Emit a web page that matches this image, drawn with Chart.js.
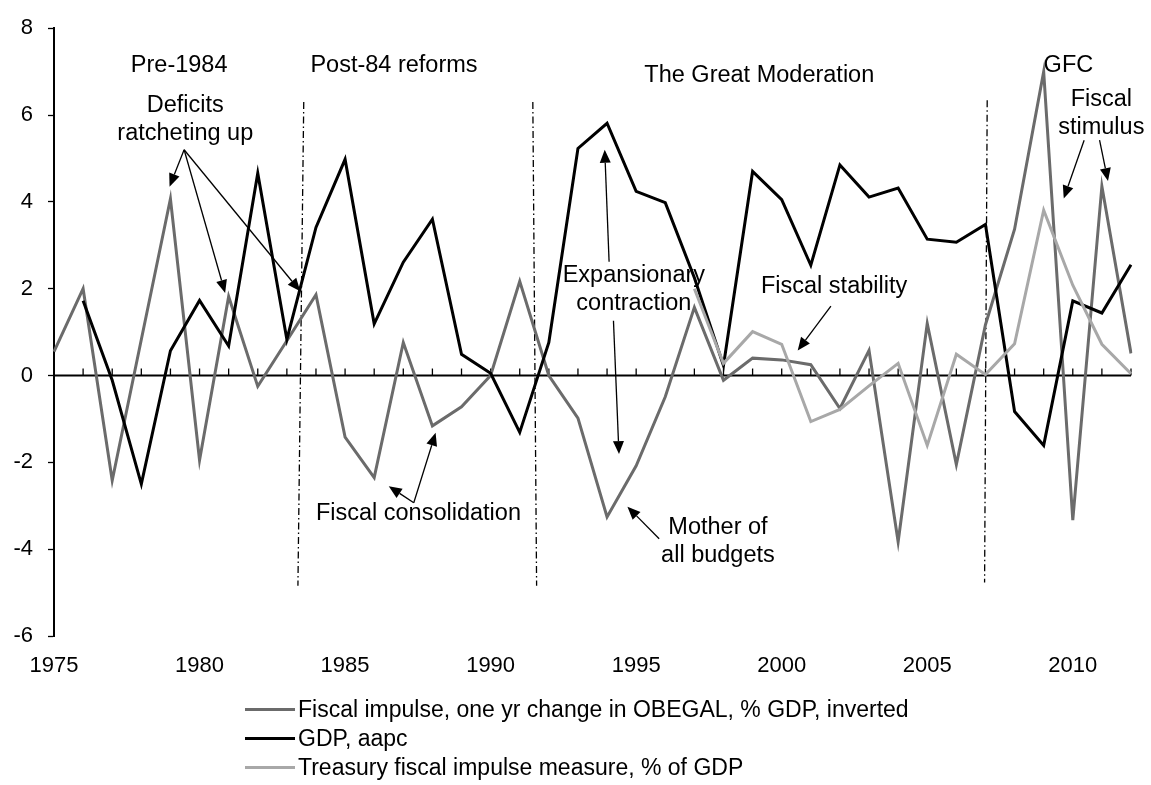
<!DOCTYPE html>
<html>
<head>
<meta charset="utf-8">
<script src="https://cdn.jsdelivr.net/npm/chart.js@4.4.0/dist/chart.umd.min.js"></script>
<style>
  html, body { margin: 0; padding: 0; background: #fff; }
  #wrap { position: relative; width: 1151px; height: 785px; }
  #legend {
    position: absolute; left: 245px; top: 695px;
    font-family: 'Liberation Sans', Arial, sans-serif; font-size: 23px; color: #000;
  }
  #legend .item { display: flex; align-items: center; height: 29px; white-space: nowrap; }
  #legend .swatch { width: 50px; height: 3px; margin-right: 3px; }
</style>
</head>
<body>
<div id="wrap">
  <canvas id="chart" width="1151" height="785"></canvas>
  <div id="legend"></div>
</div>
<script>
// years on the category axis
const years = [1975, 1976, 1977, 1978, 1979, 1980, 1981, 1982, 1983, 1984,
               1985, 1986, 1987, 1988, 1989, 1990, 1991, 1992, 1993, 1994,
               1995, 1996, 1997, 1998, 1999, 2000, 2001, 2002, 2003, 2004,
               2005, 2006, 2007, 2008, 2009, 2010, 2011, 2012];

// Fiscal impulse, one yr change in OBEGAL, % GDP, inverted
const fiscalImpulse = [0.55, 2.0, -2.42, 0.83, 4.07, -1.95, 1.82, -0.25, 0.8, 1.86,
                       -1.42, -2.35, 0.76, -1.16, -0.72, 0.0, 2.17, 0.0, -0.98, -3.26,
                       -2.08, -0.49, 1.57, -0.11, 0.4, 0.36, 0.25, -0.76, 0.58, -3.83,
                       1.2, -2.05, 1.17, 3.37, 7.0, -3.33, 4.36, 0.51];

// GDP, aapc
const gdp = [null, 1.72, -0.11, -2.5, 0.57, 1.73, 0.68, 4.66, 0.83, 3.41,
             4.98, 1.19, 2.61, 3.6, 0.49, 0.05, -1.31, 0.76, 5.23, 5.81,
             4.24, 3.98, 2.25, 0.23, 4.7, 4.05, 2.54, 4.85, 4.11, 4.32,
             3.14, 3.07, 3.48, -0.83, -1.61, 1.72, 1.44, 2.55];

// Treasury fiscal impulse measure, % of GDP
const treasuryImpulse = [null, null, null, null, null, null, null, null, null, null,
                         null, null, null, null, null, null, null, null, null, null,
                         null, null, 2.0, 0.28, 1.01, 0.72, -1.06, -0.78, -0.24, 0.28,
                         -1.61, 0.49, 0.02, 0.73, 3.81, 2.08, 0.72, 0.04];

const yTicks = [-6, -4, -2, 0, 2, 4, 6, 8];

// period boundaries (dash-dot lines), in [year, value] pairs
const periodLines = [
  [[1983.58, 6.30], [1983.38, -4.84]],
  [[1991.45, 6.30], [1991.58, -4.84]],
  [[2007.06, 6.34], [2006.97, -4.77]]
];

// text notes, centred at [year, value]
const notes = [
  { lines: ['Pre-1984'], at: [1979.30, 7.14] },
  { lines: ['Post-84 reforms'], at: [1986.68, 7.14] },
  { lines: ['The Great Moderation'], at: [1999.23, 6.91] },
  { lines: ['GFC'], at: [2009.85, 7.14] },
  { lines: ['Deficits', 'ratcheting up'], at: [1979.51, 6.23] },
  { lines: ['Fiscal', 'stimulus'], at: [2010.98, 6.36] },
  { lines: ['Expansionary', 'contraction'], at: [1994.92, 2.30] },
  { lines: ['Fiscal stability'], at: [2001.80, 2.05] },
  { lines: ['Fiscal consolidation'], at: [1987.52, -3.18] },
  { lines: ['Mother of', 'all budgets'], at: [1997.81, -3.50] }
];

// arrows: from -> tip
const arrows = [
  [[1979.47, 5.20], [1978.97, 4.35]],
  [[1979.47, 5.20], [1980.88, 1.90]],
  [[1979.47, 5.20], [1983.46, 1.94]],
  [[1987.36, -2.93], [1986.50, -2.55]],
  [[1987.36, -2.93], [1988.11, -1.32]],
  [[1994.07, 2.62], [1993.92, 5.20]],
  [[1994.22, 1.26], [1994.41, -1.81]],
  [[1995.79, -3.76], [1994.70, -3.02]],
  [[2001.69, 1.60], [2000.55, 0.575]],
  [[2010.39, 5.42], [2009.69, 4.075]],
  [[2010.92, 5.42], [2011.21, 4.48]]
];

const FONT = "'Liberation Sans', Arial, sans-serif";
Chart.defaults.font.family = FONT;
Chart.defaults.font.size = 22;
Chart.defaults.color = '#000';

function toPx(chart, p) {
  const xs = chart.scales.x, ys = chart.scales.y;
  const x0 = xs.getPixelForValue(0);
  const step = xs.getPixelForValue(1) - x0;
  return [x0 + (p[0] - years[0]) * step, ys.getPixelForValue(p[1])];
}

function drawArrow(ctx, from, to) {
  const ang = Math.atan2(to[1] - from[1], to[0] - from[0]);
  const head = 13, half = 5.5;
  const bx = to[0] - head * Math.cos(ang), by = to[1] - head * Math.sin(ang);
  ctx.beginPath();
  ctx.moveTo(from[0], from[1]);
  ctx.lineTo(bx, by);
  ctx.stroke();
  ctx.beginPath();
  ctx.moveTo(to[0], to[1]);
  ctx.lineTo(bx + half * Math.sin(ang), by - half * Math.cos(ang));
  ctx.lineTo(bx - half * Math.sin(ang), by + half * Math.cos(ang));
  ctx.closePath();
  ctx.fill();
}

// zero line with year ticks pointing up, plus the period dividers
const zeroAxis = {
  id: 'zeroAxis',
  beforeDatasetsDraw(chart) {
    const ctx = chart.ctx;
    const xs = chart.scales.x, ys = chart.scales.y;
    const y0 = ys.getPixelForValue(0);
    ctx.save();
    ctx.strokeStyle = '#000';
    ctx.lineWidth = 2;
    ctx.beginPath();
    ctx.moveTo(chart.chartArea.left, y0);
    ctx.lineTo(chart.chartArea.right, y0);
    ctx.stroke();
    ctx.lineWidth = 1.3;
    years.forEach((yr, i) => {
      const x = xs.getPixelForValue(i);
      ctx.beginPath();
      ctx.moveTo(x, y0);
      ctx.lineTo(x, y0 - 7);
      ctx.stroke();
    });
    ctx.setLineDash([7, 3, 1.5, 3]);
    ctx.lineWidth = 1.3;
    periodLines.forEach(seg => {
      const a = toPx(chart, seg[0]), b = toPx(chart, seg[1]);
      ctx.beginPath();
      ctx.moveTo(a[0], a[1]);
      ctx.lineTo(b[0], b[1]);
      ctx.stroke();
    });
    ctx.restore();
  }
};

const annotations = {
  id: 'annotations',
  afterDatasetsDraw(chart) {
    const ctx = chart.ctx;
    ctx.save();
    ctx.fillStyle = '#000';
    ctx.strokeStyle = '#000';
    ctx.lineWidth = 1.3;
    ctx.font = '23.5px ' + FONT;
    ctx.textAlign = 'center';
    ctx.textBaseline = 'middle';
    notes.forEach(n => {
      const p = toPx(chart, n.at);
      n.lines.forEach((t, k) => ctx.fillText(t, p[0], p[1] + k * 28));
    });
    arrows.forEach(a => drawArrow(ctx, toPx(chart, a[0]), toPx(chart, a[1])));
    ctx.restore();
  }
};

const chart = new Chart(document.getElementById('chart').getContext('2d'), {
  type: 'line',
  data: {
    labels: years,
    datasets: [
      {
        label: 'Fiscal impulse, one yr change in OBEGAL, % GDP, inverted',
        data: fiscalImpulse,
        borderColor: '#6b6b6b',
        borderWidth: 3,
        order: 3
      },
      {
        label: 'GDP, aapc',
        data: gdp,
        borderColor: '#000000',
        borderWidth: 3,
        order: 2
      },
      {
        label: 'Treasury fiscal impulse measure, % of GDP',
        data: treasuryImpulse,
        borderColor: '#a8a8a8',
        borderWidth: 3,
        order: 1
      }
    ]
  },
  options: {
    responsive: false,
    animation: false,
    layout: {
      padding: { top: 19, right: 20, bottom: 0, left: 0 }
    },
    elements: {
      point: { radius: 0 },
      line: { tension: 0 }
    },
    plugins: {
      legend: { display: false },
      tooltip: { enabled: false }
    },
    scales: {
      x: {
        offset: false,
        afterFit(scale) { scale.height = 149; },
        grid: { display: false, drawTicks: false },
        border: { display: false },
        ticks: {
          autoSkip: false,
          maxRotation: 0,
          padding: 17,
          callback: (val, idx) => (years[idx] % 5 === 0 ? String(years[idx]) : '')
        }
      },
      y: {
        min: yTicks[0],
        max: yTicks[yTicks.length - 1],
        afterFit(scale) { scale.width = 54; },
        afterBuildTicks(scale) { scale.ticks = yTicks.map(v => ({ value: v })); },
        grid: {
          drawOnChartArea: false,
          tickLength: 6,
          tickWidth: 1.3,
          color: '#000'
        },
        border: { display: true, color: '#000', width: 2 },
        ticks: { padding: 15 }
      }
    }
  },
  plugins: [zeroAxis, annotations]
});

// legend rows built from the datasets
const legendEl = document.getElementById('legend');
chart.data.datasets.forEach(ds => {
  const row = document.createElement('div');
  row.className = 'item';
  const sw = document.createElement('span');
  sw.className = 'swatch';
  sw.style.background = ds.borderColor;
  const txt = document.createElement('span');
  txt.textContent = ds.label;
  row.appendChild(sw);
  row.appendChild(txt);
  legendEl.appendChild(row);
});
</script>
</body>
</html>
